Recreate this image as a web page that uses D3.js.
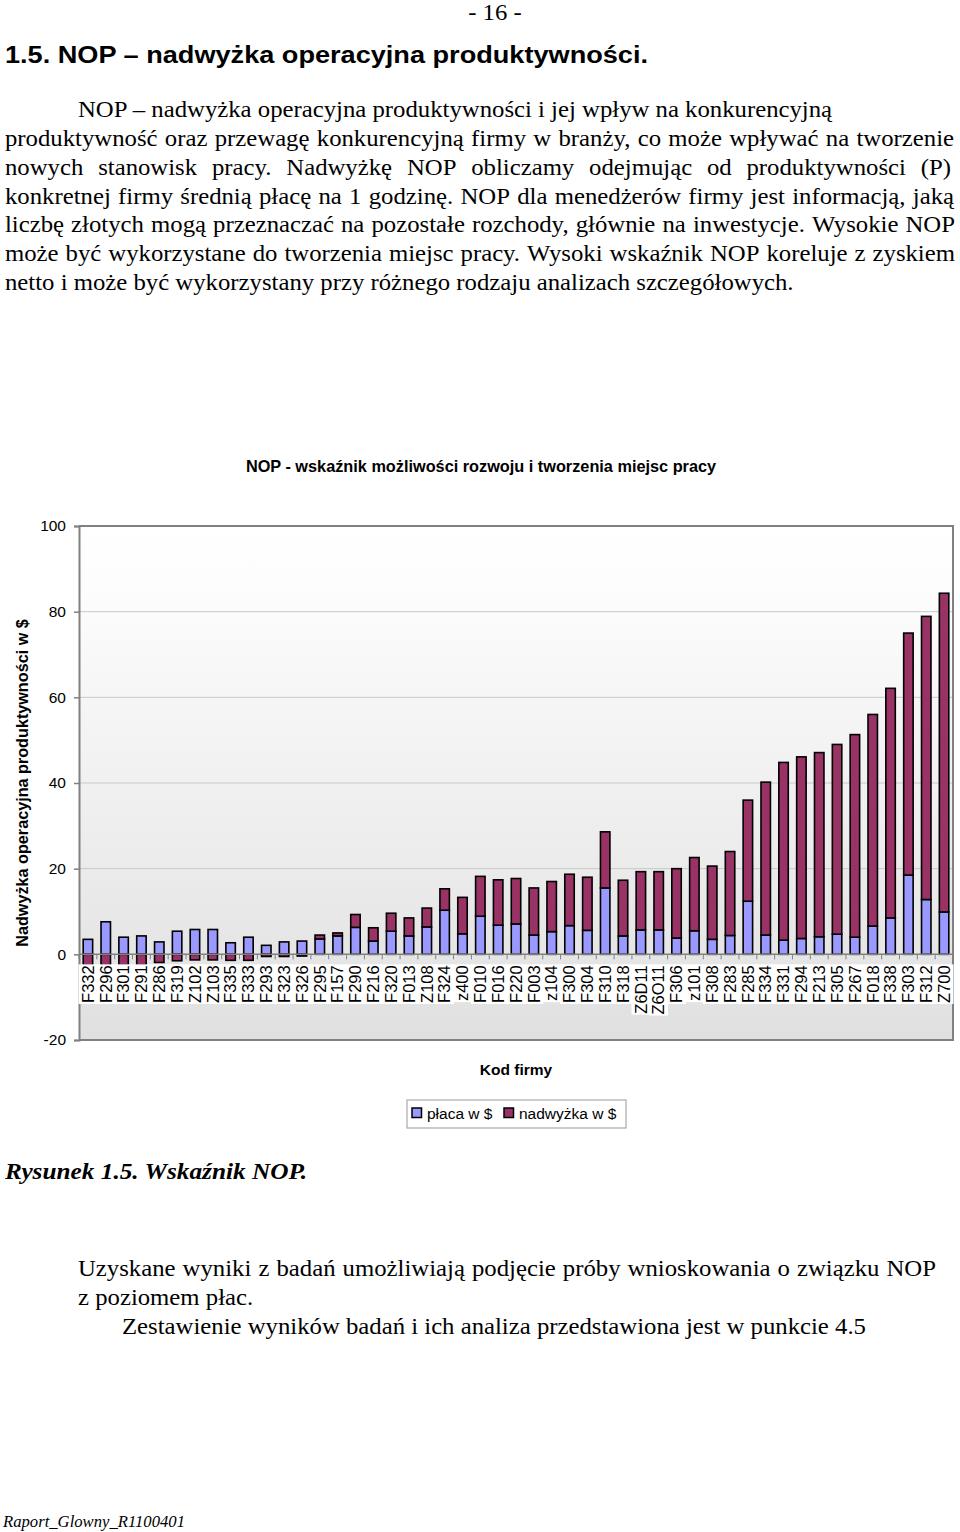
<!DOCTYPE html>
<html><head><meta charset="utf-8">
<script src="https://cdn.jsdelivr.net/npm/d3@7"></script>
<style>
html,body{margin:0;padding:0;background:#fff;}
svg{display:block;}
</style></head>
<body>
<svg id="page" width="960" height="1532"></svg>
<script>
// ---- data ----
const categories = ["F332","F296","F301","F291","F286","F319","Z102","Z103","F335","F333","F293","F323","F326","F295","F157","F290","F216","F320","F013","Z108","F324","z400","F010","F016","F220","F003","z104","F300","F304","F310","F318","Z6D11","Z6O11","F306","z101","F308","F283","F285","F334","F331","F294","F213","F305","F267","F018","F338","F303","F312","Z700"];
const placa = [3.5,7.6,4.0,4.3,2.9,5.4,5.8,5.8,2.7,4.0,2.1,2.9,3.1,3.6,4.3,6.3,3.1,5.4,4.3,6.4,10.3,4.8,8.9,6.8,7.1,4.5,5.3,6.7,5.6,15.5,4.3,5.7,5.7,3.8,5.5,3.5,4.4,12.4,4.5,3.3,3.7,4.1,4.7,4.0,6.6,8.5,18.5,12.8,9.9];
const nadwyzka = [-2.6,-2.6,-2.6,-2.6,-1.9,-1.5,-1.3,-1.3,-1.4,-1.4,-0.5,-0.5,-0.4,0.9,0.7,3.0,3.1,4.2,4.2,4.4,5.0,8.5,9.3,10.6,10.6,11.0,11.7,12.0,12.4,13.1,13.0,13.6,13.6,16.2,17.1,17.1,19.6,23.6,35.7,41.5,42.4,43.0,44.3,47.3,49.4,53.6,56.5,66.1,74.4];
const seriesNames = ["płaca w $","nadwyżka w $"];
const seriesColors = ["#9999ff","#993366"];
const yTicks = [-20,0,20,40,60,80,100];

const chartTitle = "NOP - wskaźnik możliwości rozwoju i tworzenia miejsc pracy";
const yTitle = "Nadwyżka operacyjna produktywności w $";
const xTitle = "Kod firmy";

(function(){
const svg = d3.select("#page");
const serif = "'Liberation Serif','Times New Roman',serif";
const sans = "'Liberation Sans',Arial,sans-serif";
const SX = 1.1; // horizontal stretch of the serif page text
const bodySize = 22.5;

const pageText = svg.append("g").attr("transform",`scale(${SX},1)`);

function plain(x,y,txt,opts){
  const t = pageText.append("text").attr("x",x/SX).attr("y",y).text(txt)
    .attr("font-family",serif).attr("font-size",opts.size||bodySize)
    .attr("fill","#000");
  if(opts.weight) t.attr("font-weight",opts.weight);
  if(opts.style) t.attr("font-style",opts.style);
  if(opts.anchor) t.attr("text-anchor",opts.anchor);
  return t;
}
function justified(x0,x1,y,txt,size){
  const words = txt.split(" ");
  const g = pageText.append("text").attr("y",y).attr("font-family",serif).attr("font-size",size).attr("fill","#000");
  const spans = words.map(w=>g.append("tspan").text(w));
  const widths = spans.map(s=>s.node().getComputedTextLength());
  const total = d3.sum(widths);
  const a = x0/SX, b = x1/SX;
  const gap = (b-a-total)/(words.length-1);
  let xx = a;
  spans.forEach((s,i)=>{ s.attr("x",xx); xx += widths[i]+gap; });
}

plain(495,20,"- 16 -",{anchor:"middle"});
svg.append("text").attr("x",5).attr("y",63).text("1.5. NOP – nadwyżka operacyjna produktywności.")
  .attr("font-family",sans).attr("font-size",23.5).attr("font-weight","bold").attr("fill","#000")
  .attr("textLength",643).attr("lengthAdjust","spacingAndGlyphs");

plain(78,117,"NOP – nadwyżka operacyjna produktywności i jej wpływ na konkurencyjną",{});
justified(5,954,146,"produktywność oraz przewagę konkurencyjną firmy w branży, co może wpływać na tworzenie",bodySize);
justified(5,951,175,"nowych stanowisk pracy. Nadwyżkę NOP obliczamy odejmując od produktywności (P)",bodySize);
justified(5,954,204,"konkretnej firmy średnią płacę na 1 godzinę. NOP dla menedżerów firmy jest informacją, jaką",bodySize);
justified(5,955,232,"liczbę złotych mogą przeznaczać na pozostałe rozchody, głównie na inwestycje. Wysokie NOP",bodySize);
justified(5,955,261,"może być wykorzystane do tworzenia miejsc pracy. Wysoki wskaźnik NOP koreluje z zyskiem",bodySize);
plain(5,290,"netto i może być wykorzystany przy różnego rodzaju analizach szczegółowych.",{});

plain(5,1179,"Rysunek 1.5. Wskaźnik NOP.",{size:23,weight:"bold",style:"italic"});
justified(78,936,1276,"Uzyskane wyniki z badań umożliwiają podjęcie próby wnioskowania o związku NOP",bodySize);
plain(78,1305,"z poziomem płac.",{});
plain(122,1334,"Zestawienie wyników badań i ich analiza przedstawiona jest w punkcie 4.5",{});
svg.append("text").attr("x",3).attr("y",1527).text("Raport_Glowny_R1100401")
  .attr("font-family",serif).attr("font-size",16.5).attr("font-style","italic").attr("fill","#000")
  .attr("textLength",182).attr("lengthAdjust","spacingAndGlyphs");

// ---- chart ----
const pL = 79, pR = 953, pT = 526, pB = 1040;
const x = d3.scaleBand().domain(categories).range([pL,pR]).paddingInner(0.47).paddingOuter(0.235);
const y = d3.scaleLinear().domain([-20,100]).range([pB,pT]);

const defs = svg.append("defs");
const grad = defs.append("linearGradient").attr("id","bg").attr("x1",0).attr("y1",0).attr("x2",0).attr("y2",1);
grad.append("stop").attr("offset","0%").attr("stop-color","#ffffff");
grad.append("stop").attr("offset","15%").attr("stop-color","#fcfcfc");
grad.append("stop").attr("offset","100%").attr("stop-color","#e0e0e0");

const chart = svg.append("g");
chart.append("rect").attr("x",pL).attr("y",pT).attr("width",pR-pL).attr("height",pB-pT).attr("fill","url(#bg)");

chart.append("g").selectAll("line").data(yTicks.filter(v=>v!==0 && v!==-20 && v!==100)).join("line")
  .attr("x1",pL).attr("x2",pR).attr("y1",d=>y(d)).attr("y2",d=>y(d))
  .attr("stroke","#c8c8c8").attr("stroke-width",1);

chart.append("path").attr("d",`M${pL},${pT}H${pR}V${pB}H${pL}`).attr("fill","none").attr("stroke","#808080").attr("stroke-width",2);

const yAxis = d3.axisLeft(y).tickValues(yTicks).tickSize(5).tickPadding(8).tickFormat(d=>String(d));
const ya = chart.append("g").attr("transform",`translate(${pL},0)`).call(yAxis);
ya.select(".domain").attr("stroke","#808080").attr("stroke-width",2);
ya.selectAll(".tick line").attr("stroke","#808080").attr("stroke-width",1.5);
ya.selectAll(".tick text").attr("font-family",sans).attr("font-size",15.5).attr("fill","#000");

const table = categories.map((c,i)=>({cat:c, p:placa[i], n:nadwyzka[i]}));
const stack = d3.stack().keys(["p","n"]).offset(d3.stackOffsetDiverging)(table);
const bars = chart.append("g");
stack.forEach((layer,li)=>{
  bars.append("g").selectAll("rect").data(layer).join("rect")
    .attr("x",d=>x(d.data.cat)).attr("width",x.bandwidth())
    .attr("y",d=>y(Math.max(d[0],d[1]))).attr("height",d=>Math.abs(y(d[0])-y(d[1])))
    .attr("fill",seriesColors[li]).attr("stroke","#000").attr("stroke-width",1.6);
});

const xa = chart.append("g").attr("transform",`translate(0,${y(0)})`);
xa.append("line").attr("x1",pL).attr("x2",pR).attr("stroke","#808080").attr("stroke-width",1.5);
xa.selectAll("line.tk").data(d3.range(categories.length+1)).join("line").attr("class","tk")
  .attr("x1",i=>pL+i*x.step()).attr("x2",i=>pL+i*x.step()).attr("y1",0).attr("y2",5)
  .attr("stroke","#808080").attr("stroke-width",1);

const labG = chart.append("g");
const labs = labG.selectAll("g").data(categories).join("g")
  .attr("transform",d=>`translate(${x(d)+x.bandwidth()/2},${y(0)+11}) rotate(-90)`);
labs.append("rect").attr("fill","#fff");
labs.append("text").text(d=>d).attr("text-anchor","end").attr("dy","0.35em")
  .attr("font-family",sans).attr("font-size",16.5).attr("fill","#000");
labs.each(function(){
  const t = d3.select(this).select("text").node().getBBox();
  d3.select(this).select("rect").attr("x",t.x-1).attr("y",-x.step()/2-0.5).attr("width",t.width+2).attr("height",x.step()+1);
});

svg.append("text").attr("x",481).attr("y",472).attr("text-anchor","middle").text(chartTitle)
  .attr("font-family",sans).attr("font-weight","bold").attr("font-size",16.3).attr("fill","#000");
svg.append("text").attr("transform",`translate(28,783) rotate(-90)`).attr("text-anchor","middle").text(yTitle)
  .attr("font-family",sans).attr("font-weight","bold").attr("font-size",16.2).attr("fill","#000");
svg.append("text").attr("x",516).attr("y",1075).attr("text-anchor","middle").text(xTitle)
  .attr("font-family",sans).attr("font-weight","bold").attr("font-size",15.5).attr("fill","#000");

const lg = svg.append("g");
lg.append("rect").attr("x",407).attr("y",1100).attr("width",219).attr("height",28).attr("fill","#fff").attr("stroke","#aaaaaa").attr("stroke-width",1.2);
const legX = [412,504];
seriesNames.forEach((n,i)=>{
  lg.append("rect").attr("x",legX[i]).attr("y",1108).attr("width",9.5).attr("height",9.5)
    .attr("fill",seriesColors[i]).attr("stroke","#000").attr("stroke-width",1.5);
  lg.append("text").attr("x",legX[i]+15).attr("y",1119).text(n)
    .attr("font-family",sans).attr("font-size",15.5).attr("fill","#000");
});
})();
</script>
</body></html>
